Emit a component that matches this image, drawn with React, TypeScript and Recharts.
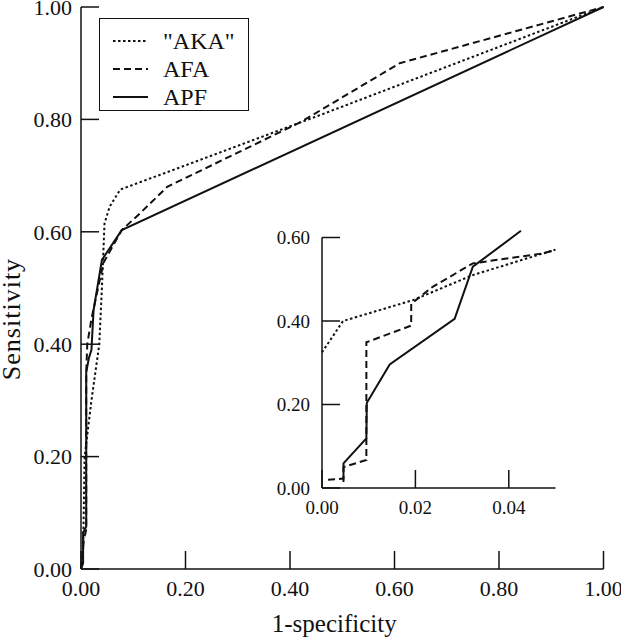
import { Label, Legend, Line, LineChart, ReferenceLine, XAxis, YAxis } from "recharts";

// main ROC curves (1-specificity vs sensitivity)
const akaX = [0, 0.004, 0.007, 0.02, 0.035, 0.04, 0.045, 0.055, 0.075, 0.45, 1];
const akaY = [0, 0.03, 0.2, 0.3, 0.4, 0.5, 0.615, 0.645, 0.675, 0.805, 1];
const afaX = [0, 0.003, 0.005, 0.01, 0.01, 0.012, 0.02, 0.028, 0.043, 0.078, 0.113, 0.165, 0.42, 0.61, 1];
const afaY = [0, 0.02, 0.05, 0.07, 0.35, 0.4, 0.445, 0.48, 0.545, 0.603, 0.633, 0.68, 0.795, 0.9, 1];
const apfX = [0, 0.004, 0.004, 0.01, 0.01, 0.015, 0.02, 0.024, 0.04, 0.078, 1];
const apfY = [0, 0.01, 0.065, 0.075, 0.35, 0.375, 0.39, 0.46, 0.55, 0.603, 1];

// inset: zoom on the low 1-specificity range
const insetAkaX = [0, 0.0045, 0.0195, 0.0323, 0.05];
const insetAkaY = [0.325, 0.4, 0.45, 0.51, 0.571];
const insetAfaX = [0.0013, 0.0046, 0.0046, 0.0095, 0.0095, 0.0191, 0.0191, 0.0237, 0.0323, 0.0473, 0.05];
const insetAfaY = [0.02, 0.0225, 0.05, 0.067, 0.349, 0.389, 0.441, 0.482, 0.538, 0.562, 0.57];
const insetApfX = [0.0046, 0.0046, 0.0095, 0.0096, 0.0145, 0.0284, 0.0323, 0.0426];
const insetApfY = [0.0145, 0.0588, 0.119, 0.204, 0.296, 0.405, 0.53, 0.616];

const mainTicks = [0, 0.2, 0.4, 0.6, 0.8, 1];
const insetXTicks = [0, 0.02, 0.04];
const insetYTicks = [0, 0.2, 0.4, 0.6];

const toPoints = (xs: number[], ys: number[]) => xs.map((x, i) => ({ x, y: ys[i] }));

const INK = "#111";
const FONT = '"Liberation Serif", "DejaVu Serif", serif';
const fmt = (v: number) => v.toFixed(2);

const series = [
  { name: '"AKA"', dash: "2.5 2.5", main: toPoints(akaX, akaY), inset: toPoints(insetAkaX, insetAkaY) },
  { name: "AFA", dash: "7 4", main: toPoints(afaX, afaY), inset: toPoints(insetAfaX, insetAfaY) },
  { name: "APF", dash: undefined, main: toPoints(apfX, apfY), inset: toPoints(insetApfX, insetApfY) },
];

function LegendBox({ payload }: any) {
  return (
    <div
      style={{
        boxSizing: "border-box",
        width: 150,
        height: 93,
        border: `1.5px solid ${INK}`,
        paddingTop: 8,
        background: "#fff",
        fontFamily: FONT,
        fontSize: 24,
        lineHeight: "28px",
        color: INK,
      }}
    >
      {(payload || []).map((entry: any) => (
        <div key={entry.value} style={{ height: 28, display: "flex", alignItems: "center" }}>
          <svg width={35} height={6} style={{ marginLeft: 13, marginRight: 15 }}>
            <line x1={0} y1={3} x2={35} y2={3} stroke={INK} strokeWidth={2} strokeDasharray={entry.payload?.strokeDasharray} />
          </svg>
          <span>{entry.value}</span>
        </div>
      ))}
    </div>
  );
}

export default function App() {
  const mainTick = { fill: INK, fontSize: 22, fontFamily: FONT };
  const insetTick = { fill: INK, fontSize: 19, fontFamily: FONT };
  const axisStroke = { stroke: INK, strokeWidth: 1.5 };

  return (
    <div style={{ position: "absolute", left: 0, top: 0, width: 621, height: 639, background: "#fff" }}>
      <LineChart width={621} height={639} margin={{ top: 7, right: 17.5, left: 0, bottom: 0 }}>
        <XAxis
          type="number"
          dataKey="x"
          domain={[0, 1]}
          ticks={mainTicks}
          interval={0}
          tickFormatter={fmt}
          height={70}
          tickSize={-18}
          tickMargin={29}
          axisLine={axisStroke}
          tickLine={axisStroke}
          tick={mainTick}
        >
          <Label value="1-specificity" position="insideBottom" offset={7} dx={-8} style={{ fill: INK, fontSize: 25, fontFamily: FONT }} />
        </XAxis>
        <YAxis
          type="number"
          dataKey="y"
          domain={[0, 1]}
          ticks={mainTicks}
          interval={0}
          tickFormatter={fmt}
          width={81}
          tickSize={-18}
          tickMargin={27}
          axisLine={axisStroke}
          tickLine={axisStroke}
          tick={mainTick}
        >
          <Label
            content={(props: any) => {
              const vb = props.viewBox || {};
              const cx = 20;
              const cy = (vb.y ?? 0) + (vb.height ?? 0) / 2 + 31;
              return (
                <text
                  x={cx}
                  y={cy}
                  transform={`rotate(-90 ${cx} ${cy})`}
                  textAnchor="middle"
                  fill={INK}
                  fontSize={26}
                  letterSpacing={1}
                  fontFamily={FONT}
                >
                  Sensitivity
                </text>
              );
            }}
          />
        </YAxis>
        <Legend
          layout="vertical"
          align="center"
          verticalAlign="middle"
          content={<LegendBox />}
          wrapperStyle={{ left: 99, top: 18, width: 150, height: 93 }}
        />
        {series.map((s) => (
          <Line
            key={s.name}
            name={s.name}
            data={s.main}
            dataKey="y"
            type="linear"
            stroke={INK}
            strokeWidth={2}
            strokeDasharray={s.dash}
            dot={false}
            activeDot={false}
            isAnimationActive={false}
          />
        ))}
      </LineChart>

      <div style={{ position: "absolute", left: 260, top: 220, width: 320, height: 305 }}>
        <LineChart width={320} height={305} margin={{ top: 9.15, right: 24.5, left: 0, bottom: 0 }}>
          <XAxis
            type="number"
            dataKey="x"
            domain={[0, 0.05]}
            ticks={insetXTicks}
            interval={0}
            tickFormatter={fmt}
            height={37}
            tickSize={-18}
            tickMargin={31}
            axisLine={axisStroke}
            tickLine={axisStroke}
            tick={insetTick}
          />
          <YAxis
            type="number"
            dataKey="y"
            domain={[0, 0.62]}
            ticks={insetYTicks}
            interval={0}
            tickFormatter={fmt}
            width={62}
            tickSize={-18}
            tickMargin={30}
            axisLine={false}
            tickLine={axisStroke}
            tick={insetTick}
          />
          <ReferenceLine segment={[{ x: 0, y: 0 }, { x: 0, y: 0.6 }]} stroke={INK} strokeWidth={1.5} />
          {series.map((s) => (
            <Line
              key={s.name}
              name={s.name}
              data={s.inset}
              dataKey="y"
              type="linear"
              stroke={INK}
              strokeWidth={2}
              strokeDasharray={s.dash}
              dot={false}
              activeDot={false}
              isAnimationActive={false}
            />
          ))}
        </LineChart>
      </div>
    </div>
  );
}
